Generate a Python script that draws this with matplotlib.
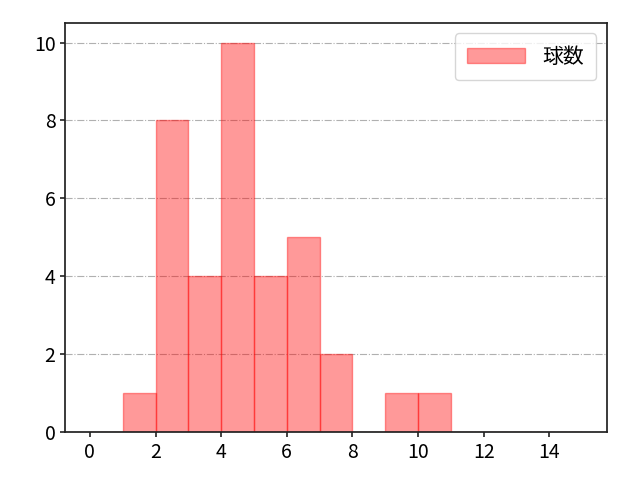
import numpy as np
import matplotlib
matplotlib.use("Agg")
import matplotlib.pyplot as plt

plt.rcParams['font.family'] = ['Noto Sans CJK JP', 'DejaVu Sans']

# histogram counts per 1-wide bin, 0..15
bin_edges = list(range(0, 16))
counts = [0, 1, 8, 4, 10, 4, 5, 2, 0, 1, 1, 0, 0, 0, 0]

fig, ax = plt.subplots(figsize=(6.4, 4.8), dpi=100)
ax.hist(bin_edges[:-1], bins=bin_edges, weights=counts,
        color='red', alpha=0.4, edgecolor='red', linewidth=1, label='球数')
ax.grid(axis='y', linestyle='-.', color='#b0b0b0', linewidth=0.8)
ax.set_axisbelow(True)
ax.set_xticks(range(0, 16, 2))
ax.tick_params(labelsize=14, width=1.2, color='#222222')
for s in ax.spines.values():
    s.set_linewidth(1.25)
    s.set_color('#222222')
ax.legend(fontsize=15, loc='upper right', handlelength=2.8, borderpad=0.6)
fig.subplots_adjust(left=0.102, right=0.948, top=0.952, bottom=0.1)
fig.savefig('out.png')
